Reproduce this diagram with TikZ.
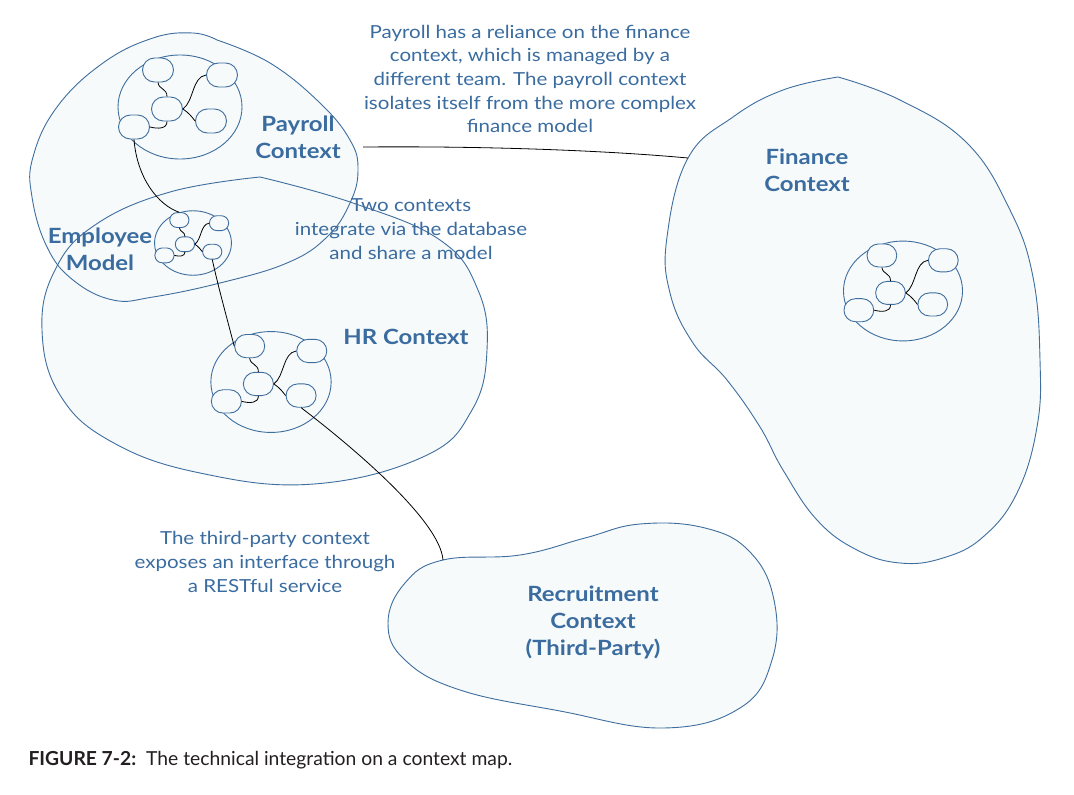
\documentclass[tikz,border=0pt]{standalone}
\usepackage{fontspec}
\setmainfont{Lato}[FakeStretch=1.14]
\newfontfamily\capfont{Lato}
\usetikzlibrary{shapes.geometric,shapes.misc}
\definecolor{ctxblue}{RGB}{62,110,158}
\definecolor{txtblue}{RGB}{58,108,160}
\definecolor{blobfill}{RGB}{247,250,251}
\definecolor{capgray}{RGB}{35,31,32}
\tikzset{
  blobline/.style={draw=ctxblue, line width=0.9pt},
  blobbg/.style={fill=blobfill},
  wire/.style={draw=black, line width=0.8pt},
  clring/.style={ellipse, draw=ctxblue, fill=blobfill, line width=0.9pt,
    minimum width=124pt, minimum height=104pt, inner sep=0pt},
  clbox/.style={rounded rectangle, draw=ctxblue, fill=blobfill, line width=0.9pt,
    minimum width=31pt, minimum height=24pt, inner sep=0pt},
  ctxlabel/.style={text=txtblue, font=\fontsize{21}{27}\selectfont\bfseries, align=center},
  note/.style={text=txtblue, font=\fontsize{18}{23.7}\selectfont, align=center},
  cluster/.pic={
    \node[clring] (-ring) at (0,0) {};
    \node[clbox] (-a) at (-22,-37) {};
    \node[clbox] (-b) at (42,-32) {};
    \node[clbox] (-c) at (-13,2) {};
    \node[clbox] (-d) at (-46,20) {};
    \node[clbox] (-e) at (31,14) {};
    \draw[wire] (-a.south) .. controls (-21,-17) and (-13,-19) .. (-c.north);
    \draw[wire] (-c.east) .. controls (14,-6) and (12,-30) .. (-b.west);
    \draw[wire] (-c.east) .. controls (9,6) and (12,10) .. (-e.west);
    \draw[wire] (-c.south) .. controls (-13,22) and (-22,22) .. (-d.east);
  },
  payshape/.style={insert path={plot[smooth, tension=0.7] coordinates {
    (217,40) (270,63) (320,103) (350,140) (358,170) (350,203) (327,237) (287,263)
    (220,283) (153,297) (113,300) (73,280) (47,247) (32,197) (33,157) (57,107)
    (103,63) (153,38) (193,33) (217,40)} -- cycle}},
  hrshape/.style={insert path={plot[smooth, tension=0.7] coordinates {
    (260,177) (353,203) (440,240) (478,290) (487,350) (472,410) (425,456)
    (314,484) (200,473) (112,442) (60,395) (42,330) (55,270) (95,225)
    (170,192) (260,177)} -- cycle}},
  finshape/.style={insert path={plot[smooth, tension=0.7] coordinates {
    (838,77) (900,100) (967,143) (1010,210) (1033,277) (1040,360) (1037,427)
    (1017,493) (983,537) (943,558) (900,563) (857,550) (817,520) (783,470)
    (760,427) (727,380) (693,343) (670,293) (667,237) (688,158) (733,117)
    (783,90) (838,77)} -- cycle}},
  recshape/.style={insert path={plot[smooth cycle, tension=0.7] coordinates {
    (443,560) (520,555) (585,538) (640,524) (705,528) (750,552) (774,600)
    (772,660) (740,708) (663,728) (560,711) (460,690) (405,660) (388,623)
    (405,583)}}},
}
\begin{document}
\begin{tikzpicture}[x=1pt, y=-1pt]
  \useasboundingbox[fill=white] (0,0) rectangle (1074,795);
  % blob fills
  \fill[blobbg, payshape];
  \fill[blobbg, hrshape];
  \fill[blobbg, finshape];
  \fill[blobbg, recshape];
  % blob outlines
  \draw[blobline, payshape];
  \draw[blobline, hrshape];
  \draw[blobline, finshape];
  \draw[blobline, recshape];
  % clusters
  \pic (pay) at (180,107) {cluster};
  \pic[scale=0.62, transform shape] (emp) at (193,243) {cluster};
  \pic[scale=0.97, transform shape] (hr) at (271,382) {cluster};
  \pic[scale=0.96, transform shape] (fin) at (903,291) {cluster};
  % attachment points on context boundaries
  \coordinate (payR) at (363,147);
  \coordinate (finL) at (688,158);
  \coordinate (recT) at (443,560);
  % connectors
  \draw[wire] (pay-d.south) .. controls (137,178) and (158,205) .. (emp-a.north);
  \draw[wire] (emp-e.south) .. controls (219,290) and (228,322) .. (hr-a.west);
  \draw[wire] (hr-e.south) .. controls (350,445) and (440,520) .. (recT);
  \draw[wire] (payR) .. controls (480,146) and (600,150) .. (finL);
  % labels
  \node[ctxlabel] (payL) at (298,137) {Payroll\\Context};
  \node[ctxlabel] (finLbl) at (807,170) {Finance\\Context};
  \node[ctxlabel] (empL) at (100,249) {Employee\\Model};
  \node[ctxlabel] (hrL) at (406,337) {HR Context};
  \node[ctxlabel] (recL) at (593,622) {Recruitment\\Context\\(Third-Party)};
  \node[note] (n1) at (530,79) {Payroll has a reliance on the finance\\context, which is managed by a\\different team. The payroll context\\isolates itself from the more complex\\finance model};
  \node[note] (n2) at (411,229) {Two contexts\\integrate via the database\\and share a model};
  \node[note] (n3) at (265,562) {The third-party context\\exposes an interface through\\a RESTful service};
  \node[anchor=west, text=capgray, font=\capfont\fontsize{19.3}{23}\selectfont] (cap) at (25,760)
    {\textbf{FIGURE 7-2:}\ \ The technical integration on a context map.};
\end{tikzpicture}
\end{document}
